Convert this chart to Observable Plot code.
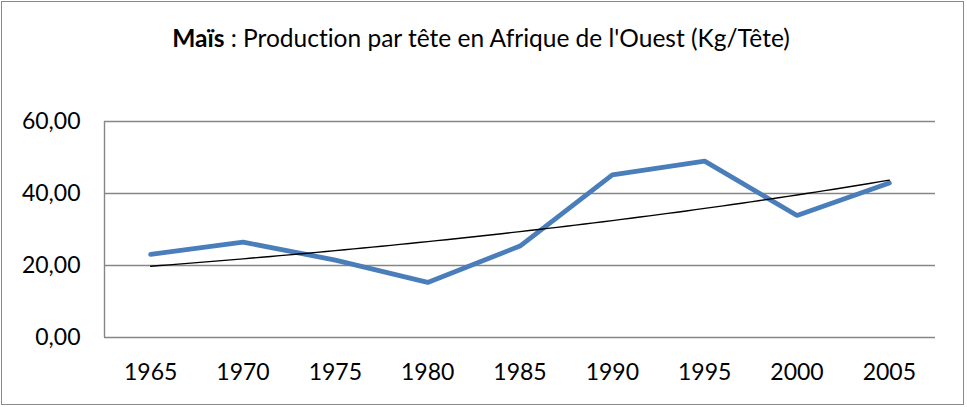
<!DOCTYPE html>
<html>
<head>
<meta charset="utf-8">
<script src="https://cdn.jsdelivr.net/npm/d3@7"></script>
<script src="https://cdn.jsdelivr.net/npm/@observablehq/plot@0.6"></script>
<style>
  html, body { margin: 0; padding: 0; background: #fff; }
  #wrap { position: relative; width: 967px; height: 407px; overflow: hidden; font-family: Lato, sans-serif; font-variant-ligatures: none; }
  #frame { position: absolute; left: 1px; top: 1px; width: 961px; height: 402px; border: 1px solid #8a8a8a; box-sizing: content-box; }
  #title { position: absolute; left: 0; width: 962px; top: 26px; text-align: center; font-size: 24.5px; color: #000; line-height: 1; white-space: nowrap; }
  #chart { position: absolute; left: 0; top: 0; }
</style>
</head>
<body>
<div id="wrap">
  <div id="frame"></div>
  <div id="title"><b>Maïs</b> : Production par tête en Afrique de l'Ouest (Kg/Tête)</div>
  <div id="chart"></div>
</div>
<script>
const years = [1965, 1970, 1975, 1980, 1985, 1990, 1995, 2000, 2005];
const maize = [23.1, 26.5, 21.5, 15.3, 25.4, 45.2, 49.0, 33.9, 42.9];
const yTicks = [0, 20, 40, 60];

const data = years.map((year, i) => ({year, value: maize[i]}));

// Exponential trend line (least squares on ln(value)), as a spreadsheet trendline
const n = years.length;
const xs = years.map((_, i) => i + 1);
const ly = maize.map(v => Math.log(v));
const mx = d3.mean(xs), my = d3.mean(ly);
const slope = d3.sum(xs, (x, i) => (x - mx) * (ly[i] - my)) / d3.sum(xs, x => (x - mx) ** 2);
const intercept = my - slope * mx;
const trend = d3.range(0, (n - 1) * 10 + 1).map(k => {
  const x = 1 + k / 10;
  return {year: years[0] + (x - 1) * 5, value: Math.exp(intercept + slope * x)};
});

const fmt = d => d.toFixed(2).replace(".", ",");

const plot = Plot.plot({
  width: 967,
  height: 407,
  marginTop: 121,
  marginBottom: 70,
  marginLeft: 104,
  marginRight: 32,
  style: {fontFamily: "Lato, sans-serif", fontSize: "23px", color: "#000", background: "transparent", overflow: "visible"},
  x: {domain: [years[0] - 2.5, years[n - 1] + 2.5], ticks: years, tickFormat: d => String(d), tickSize: 0, tickPadding: 26, label: null},
  y: {domain: [0, 60], ticks: yTicks, tickFormat: fmt, tickSize: 0, tickPadding: 24, label: null},
  marks: [
    Plot.gridY(yTicks, {stroke: "#868686", strokeOpacity: 1, strokeWidth: 1.4}),
    Plot.ruleX([years[0] - 2.5], {stroke: "#868686", strokeWidth: 1.4}),
    Plot.axisX({ticks: years, tickSize: 0, tickPadding: 26, tickFormat: d => String(d), fontSize: 23}),
    Plot.axisY({ticks: yTicks, tickSize: 0, tickPadding: 24, tickFormat: fmt, fontSize: 23}),
    Plot.line(data, {x: "year", y: "value", stroke: "#4a7ebb", strokeWidth: 4.8, strokeLinejoin: "miter", strokeLinecap: "round"}),
    Plot.line(trend, {x: "year", y: "value", stroke: "#000", strokeWidth: 1.4})
  ]
});
document.getElementById("chart").appendChild(plot);
</script>
</body>
</html>
